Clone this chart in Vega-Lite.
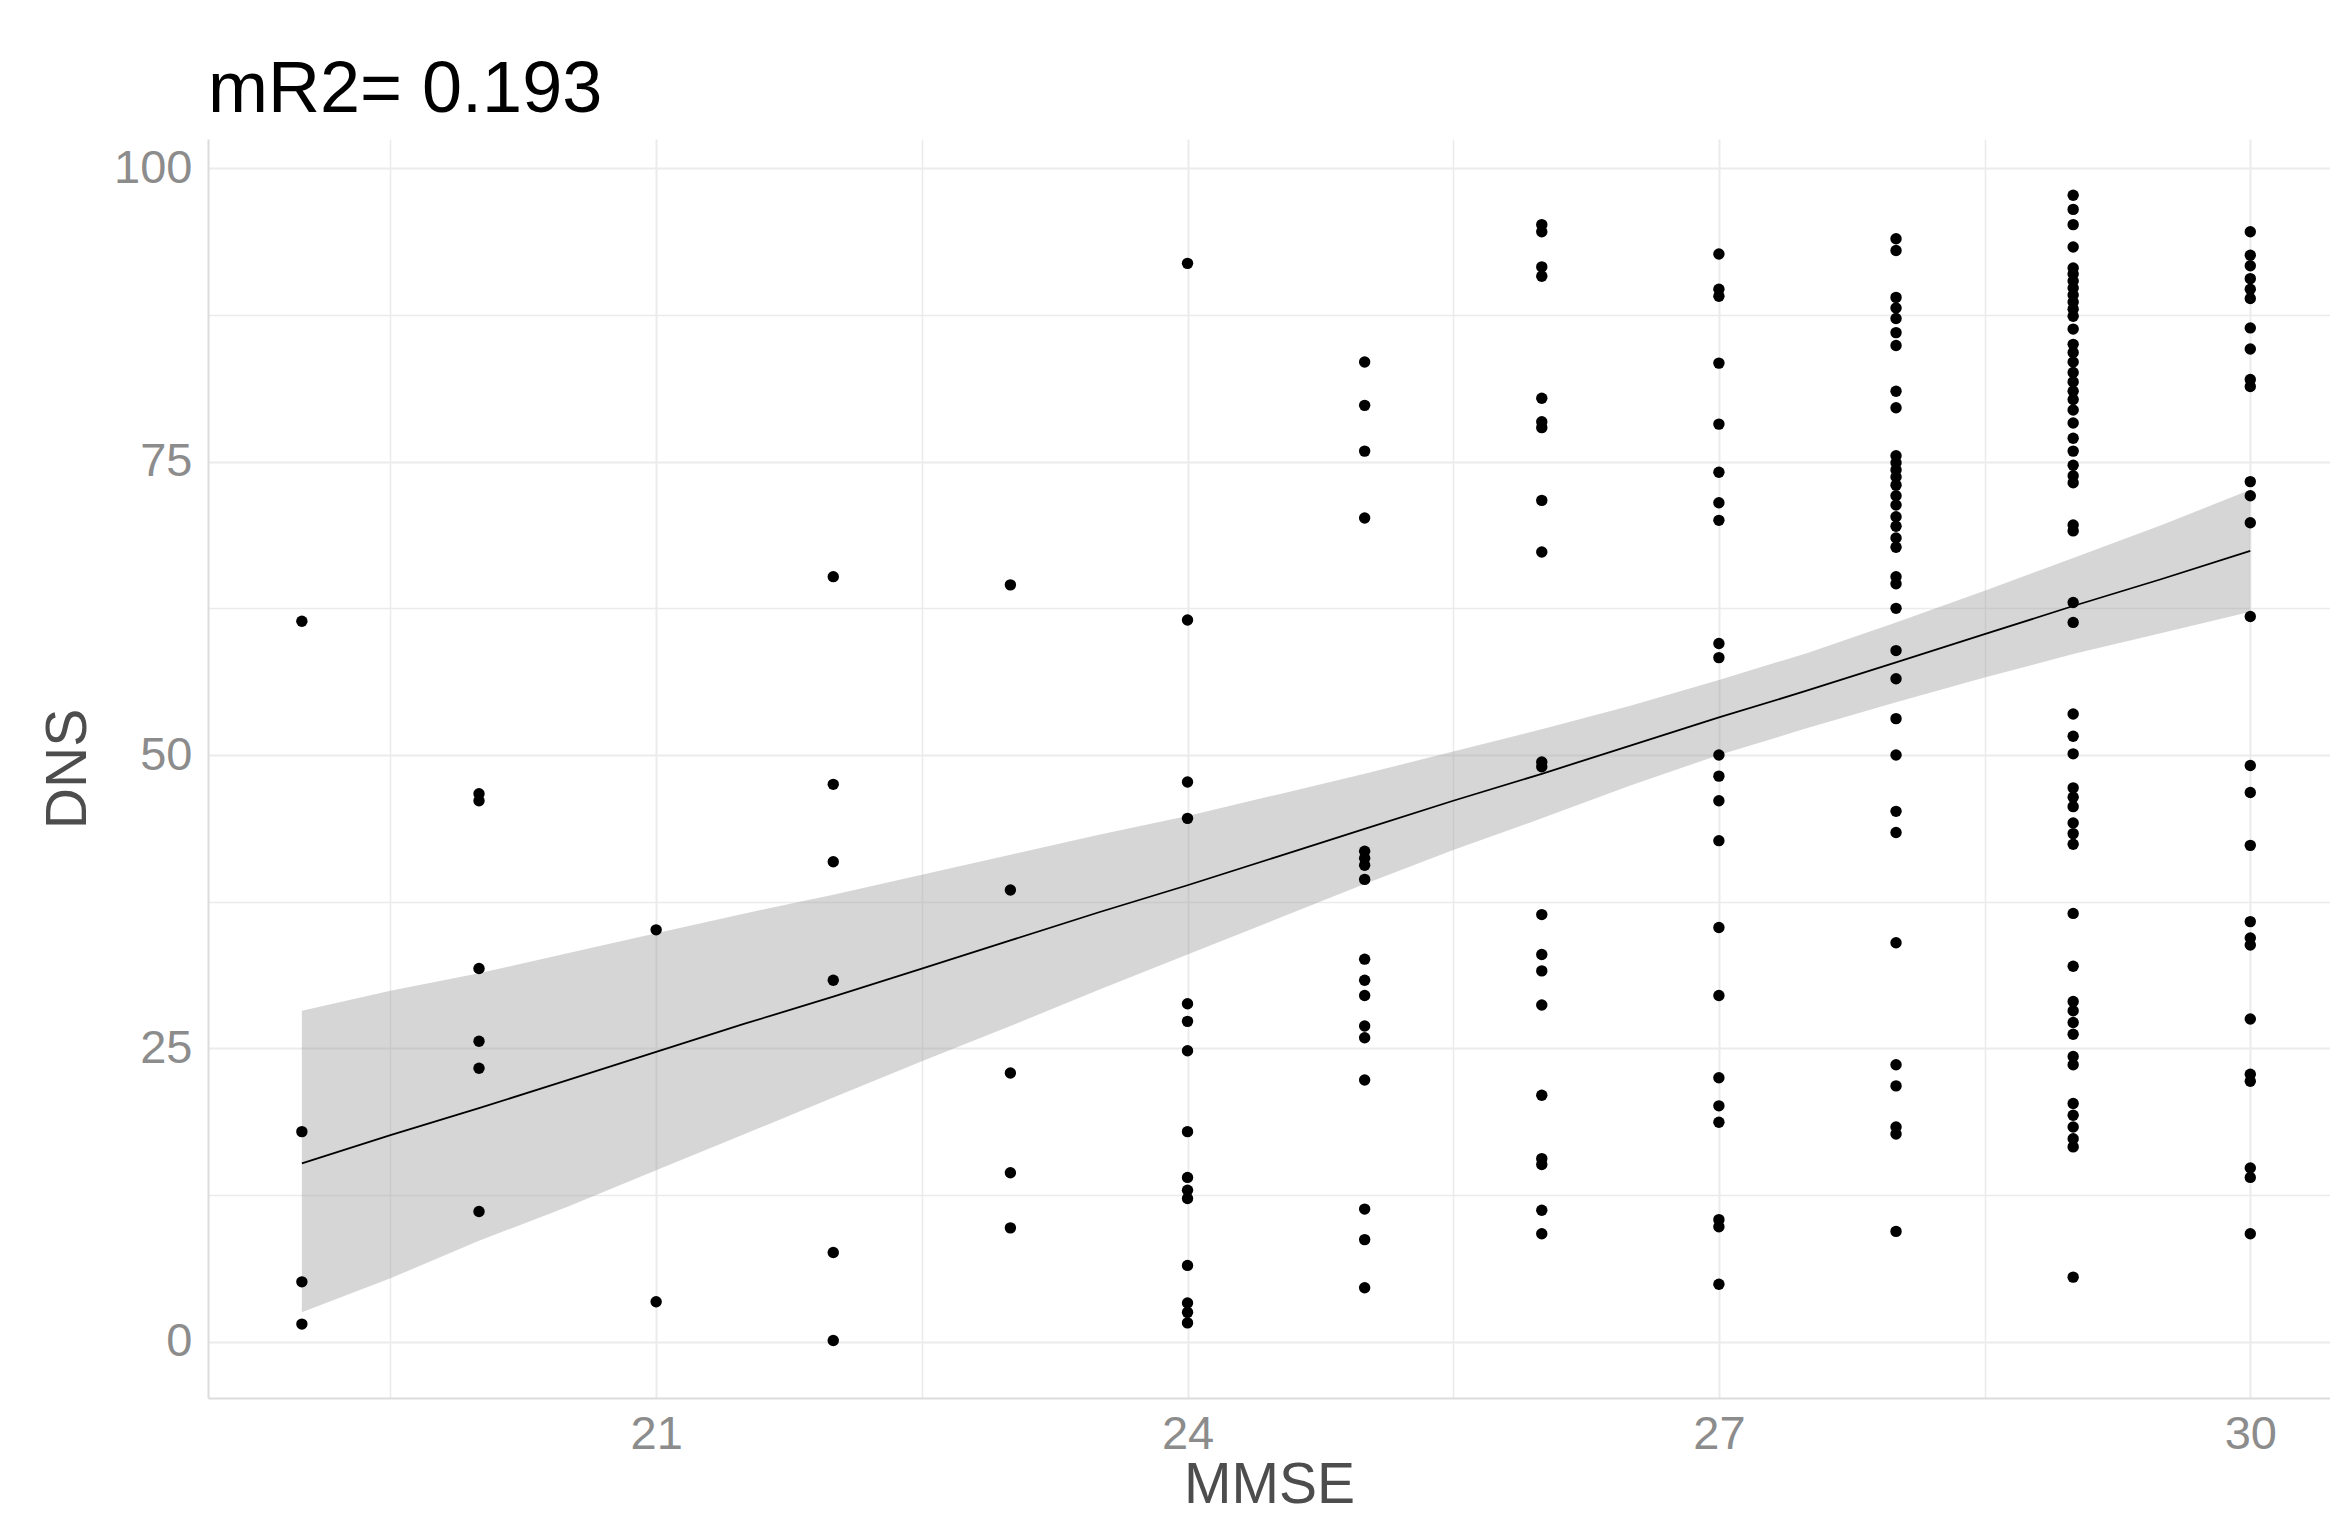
{
  "$schema": "https://vega.github.io/schema/vega-lite/v6.json",
  "width": 2122,
  "height": 1259,
  "autosize": "none",
  "padding": {"left": 208, "top": 139, "right": 0, "bottom": 120},
  "background": "white",
  "title": {"text": "mR2= 0.193", "anchor": "start", "frame": "group", "fontSize": 72, "font": "Liberation Sans", "fontWeight": "normal", "color": "black", "offset": 12},
  "config": {
    "view": {"stroke": null},
    "axis": {"labelFont": "Liberation Sans", "titleFont": "Liberation Sans", "labelColor": "#8c8c8c", "titleColor": "#4d4d4d", "labelFontSize": 47, "titleFontSize": 57, "titleFontWeight": "normal", "ticks": false, "gridColor": "#ebebeb", "domainColor": "#dcdcdc", "domainWidth": 2}
  },
  "datasets": {
    "pts": [
      {"m":19,"d":61.4},{"m":19,"d":17.9},{"m":19,"d":5.1},{"m":19,"d":1.5},
      {"m":20,"d":46.7},{"m":20,"d":46.1},{"m":20,"d":31.8},{"m":20,"d":25.6},{"m":20,"d":23.3},{"m":20,"d":11.1},
      {"m":21,"d":35.1},{"m":21,"d":3.4},
      {"m":22,"d":65.2},{"m":22,"d":47.5},{"m":22,"d":40.9},{"m":22,"d":30.8},{"m":22,"d":7.6},{"m":22,"d":0.1},
      {"m":23,"d":64.5},{"m":23,"d":38.5},{"m":23,"d":22.9},{"m":23,"d":14.4},{"m":23,"d":9.7},
      {"m":24,"d":91.9},{"m":24,"d":61.5},{"m":24,"d":47.7},{"m":24,"d":44.6},{"m":24,"d":28.8},{"m":24,"d":27.3},{"m":24,"d":24.8},{"m":24,"d":17.9},{"m":24,"d":14.0},{"m":24,"d":12.9},{"m":24,"d":12.2},{"m":24,"d":6.5},{"m":24,"d":3.3},{"m":24,"d":2.5},{"m":24,"d":1.6},
      {"m":25,"d":83.5},{"m":25,"d":79.8},{"m":25,"d":75.9},{"m":25,"d":70.2},{"m":25,"d":41.8},{"m":25,"d":41.2},{"m":25,"d":40.6},{"m":25,"d":39.4},{"m":25,"d":32.6},{"m":25,"d":30.8},{"m":25,"d":29.5},{"m":25,"d":26.9},{"m":25,"d":25.9},{"m":25,"d":22.3},{"m":25,"d":11.3},{"m":25,"d":8.7},{"m":25,"d":4.6},
      {"m":26,"d":95.2},{"m":26,"d":94.6},{"m":26,"d":91.6},{"m":26,"d":90.8},{"m":26,"d":80.4},{"m":26,"d":78.4},{"m":26,"d":77.9},{"m":26,"d":71.7},{"m":26,"d":67.3},{"m":26,"d":49.4},{"m":26,"d":49.0},{"m":26,"d":36.4},{"m":26,"d":33.0},{"m":26,"d":31.6},{"m":26,"d":28.7},{"m":26,"d":21.0},{"m":26,"d":15.6},{"m":26,"d":15.1},{"m":26,"d":11.2},{"m":26,"d":9.2},
      {"m":27,"d":92.7},{"m":27,"d":89.7},{"m":27,"d":89.1},{"m":27,"d":83.4},{"m":27,"d":78.2},{"m":27,"d":74.1},{"m":27,"d":71.5},{"m":27,"d":70.0},{"m":27,"d":59.5},{"m":27,"d":58.3},{"m":27,"d":50.0},{"m":27,"d":48.2},{"m":27,"d":46.1},{"m":27,"d":42.7},{"m":27,"d":35.3},{"m":27,"d":29.5},{"m":27,"d":22.5},{"m":27,"d":20.1},{"m":27,"d":18.7},{"m":27,"d":10.4},{"m":27,"d":9.8},{"m":27,"d":4.9},
      {"m":28,"d":94.0},{"m":28,"d":93.0},{"m":28,"d":89.0},{"m":28,"d":88.1},{"m":28,"d":87.2},{"m":28,"d":86.0},{"m":28,"d":84.9},{"m":28,"d":81.0},{"m":28,"d":79.6},{"m":28,"d":75.5},{"m":28,"d":74.9},{"m":28,"d":74.3},{"m":28,"d":73.7},{"m":28,"d":73.0},{"m":28,"d":72.1},{"m":28,"d":71.3},{"m":28,"d":70.3},{"m":28,"d":69.5},{"m":28,"d":68.5},{"m":28,"d":67.7},{"m":28,"d":65.2},{"m":28,"d":64.6},{"m":28,"d":62.5},{"m":28,"d":58.9},{"m":28,"d":56.5},{"m":28,"d":53.1},{"m":28,"d":50.0},{"m":28,"d":45.2},{"m":28,"d":43.4},{"m":28,"d":34.0},{"m":28,"d":23.6},{"m":28,"d":21.8},{"m":28,"d":18.3},{"m":28,"d":17.7},{"m":28,"d":9.4},
      {"m":29,"d":97.7},{"m":29,"d":96.5},{"m":29,"d":95.2},{"m":29,"d":93.3},{"m":29,"d":91.5},{"m":29,"d":91.0},{"m":29,"d":90.4},{"m":29,"d":89.8},{"m":29,"d":89.2},{"m":29,"d":88.6},{"m":29,"d":88.0},{"m":29,"d":87.4},{"m":29,"d":86.3},{"m":29,"d":85.0},{"m":29,"d":84.3},{"m":29,"d":83.5},{"m":29,"d":82.6},{"m":29,"d":81.8},{"m":29,"d":81.0},{"m":29,"d":80.3},{"m":29,"d":79.4},{"m":29,"d":78.3},{"m":29,"d":77.0},{"m":29,"d":75.9},{"m":29,"d":74.7},{"m":29,"d":73.8},{"m":29,"d":73.2},{"m":29,"d":69.6},{"m":29,"d":69.1},{"m":29,"d":63.0},{"m":29,"d":61.3},{"m":29,"d":53.5},{"m":29,"d":51.6},{"m":29,"d":50.1},{"m":29,"d":47.2},{"m":29,"d":46.4},{"m":29,"d":45.6},{"m":29,"d":44.2},{"m":29,"d":43.3},{"m":29,"d":42.4},{"m":29,"d":36.5},{"m":29,"d":32.0},{"m":29,"d":29.0},{"m":29,"d":28.2},{"m":29,"d":27.2},{"m":29,"d":26.2},{"m":29,"d":24.3},{"m":29,"d":23.6},{"m":29,"d":20.3},{"m":29,"d":19.3},{"m":29,"d":18.3},{"m":29,"d":17.3},{"m":29,"d":16.6},{"m":29,"d":5.5},
      {"m":30,"d":94.6},{"m":30,"d":92.6},{"m":30,"d":91.7},{"m":30,"d":90.6},{"m":30,"d":89.7},{"m":30,"d":88.9},{"m":30,"d":86.4},{"m":30,"d":84.6},{"m":30,"d":82.0},{"m":30,"d":81.4},{"m":30,"d":73.3},{"m":30,"d":72.1},{"m":30,"d":69.8},{"m":30,"d":61.8},{"m":30,"d":49.1},{"m":30,"d":46.8},{"m":30,"d":42.3},{"m":30,"d":35.8},{"m":30,"d":34.4},{"m":30,"d":33.8},{"m":30,"d":27.5},{"m":30,"d":22.8},{"m":30,"d":22.2},{"m":30,"d":14.8},{"m":30,"d":14.0},{"m":30,"d":9.2}
    ],
    "fit": [
      {"m":19,"fit":15.2,"lo":2.5,"hi":28.2},
      {"m":19.5,"fit":17.6,"lo":5.4,"hi":29.9},
      {"m":20,"fit":19.9,"lo":8.6,"hi":31.4},
      {"m":20.5,"fit":22.3,"lo":11.5,"hi":33.1},
      {"m":21,"fit":24.7,"lo":14.6,"hi":34.8},
      {"m":21.5,"fit":27.1,"lo":17.7,"hi":36.5},
      {"m":22,"fit":29.4,"lo":20.8,"hi":38.1},
      {"m":22.5,"fit":31.8,"lo":23.9,"hi":39.8},
      {"m":23,"fit":34.2,"lo":26.9,"hi":41.5},
      {"m":23.5,"fit":36.6,"lo":30.0,"hi":43.2},
      {"m":24,"fit":38.9,"lo":33.0,"hi":44.8},
      {"m":24.5,"fit":41.3,"lo":36.0,"hi":46.6},
      {"m":25,"fit":43.7,"lo":39.0,"hi":48.4},
      {"m":25.5,"fit":46.1,"lo":41.9,"hi":50.3},
      {"m":26,"fit":48.4,"lo":44.6,"hi":52.2},
      {"m":26.5,"fit":50.8,"lo":47.4,"hi":54.2},
      {"m":27,"fit":53.2,"lo":50.0,"hi":56.4},
      {"m":27.5,"fit":55.5,"lo":52.3,"hi":58.7},
      {"m":28,"fit":57.9,"lo":54.5,"hi":61.3},
      {"m":28.5,"fit":60.3,"lo":56.6,"hi":64.0},
      {"m":29,"fit":62.7,"lo":58.6,"hi":66.8},
      {"m":29.5,"fit":65.0,"lo":60.4,"hi":69.6},
      {"m":30,"fit":67.4,"lo":62.2,"hi":72.6}
    ]
  },
  "layer": [
    {
      "data": {"name": "fit"},
      "mark": {"type": "area", "color": "#999999", "opacity": 0.4},
      "encoding": {
        "x": {"field": "m", "type": "quantitative", "scale": {"domain": [18.47, 30.45], "nice": false, "zero": false},
          "axis": {"values": [19.5, 21, 22.5, 24, 25.5, 27, 28.5, 30], "labelExpr": "datum.value % 3 == 0 ? format(datum.value, 'd') : ''", "labelOverlap": false, "labelPadding": 13, "title": "MMSE", "titlePadding": 0,
            "gridWidth": {"condition": {"test": "datum.value % 3 == 0", "value": 2}, "value": 1.5}}},
        "y": {"field": "lo", "type": "quantitative", "scale": {"domain": [-4.8, 102.5], "nice": false, "zero": false},
          "axis": {"values": [0, 12.5, 25, 37.5, 50, 62.5, 75, 87.5, 100], "labelExpr": "datum.value % 25 == 0 ? datum.label : ''", "labelOverlap": false, "labelPadding": 16, "title": "DNS", "titlePadding": 16,
            "gridWidth": {"condition": {"test": "datum.value % 25 == 0", "value": 2}, "value": 1.5}}},
        "y2": {"field": "hi"}
      }
    },
    {
      "data": {"name": "fit"},
      "mark": {"type": "line", "color": "black", "strokeWidth": 1.8},
      "encoding": {
        "x": {"field": "m", "type": "quantitative"},
        "y": {"field": "fit", "type": "quantitative"}
      }
    },
    {
      "data": {"name": "pts"},
      "mark": {"type": "circle", "color": "black", "opacity": 1, "size": 130},
      "encoding": {
        "x": {"field": "m", "type": "quantitative"},
        "y": {"field": "d", "type": "quantitative"}
      }
    }
  ]
}
